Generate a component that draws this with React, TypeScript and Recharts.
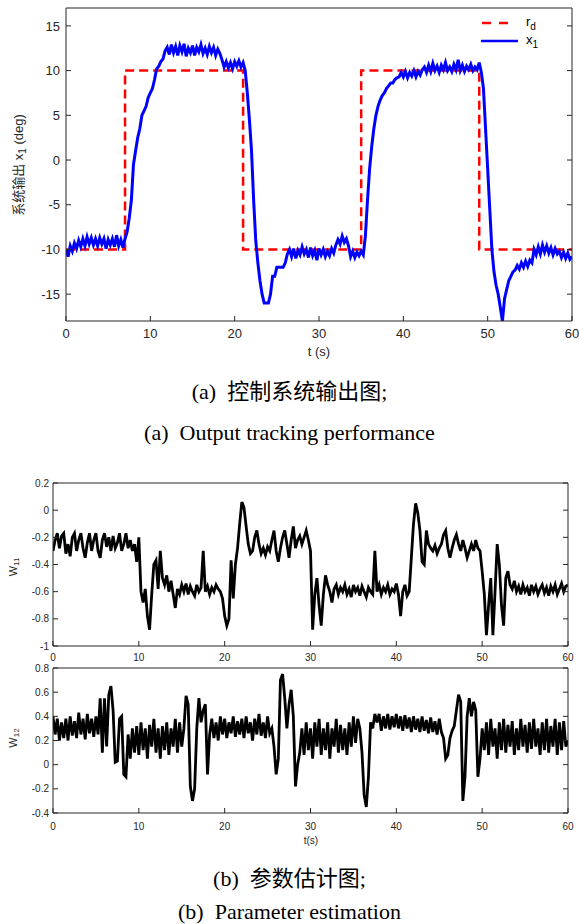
import { LineChart, Line, XAxis, YAxis, Legend } from 'recharts';

const INK = '#262626';
const SANS = "'Liberation Sans', Arial, 'Noto Sans CJK SC', sans-serif";
const SERIF = "'Liberation Serif', 'Times New Roman', 'Noto Sans CJK SC', serif";

const STEP = 0.25; // sampling step of the traces (s)
const T_TICKS = [0, 10, 20, 30, 40, 50, 60];
const X1_TICKS = [-15, -10, -5, 0, 5, 10, 15];
const W11_TICKS = [-1, -0.8, -0.6, -0.4, -0.2, 0, 0.2];
const W12_TICKS = [-0.4, -0.2, 0, 0.2, 0.4, 0.6, 0.8];

// reference r_d (square wave)
const RD_T = [0, 7, 7, 21, 21, 35, 35, 49, 49, 60];
const RD_V = [-10, -10, 10, 10, -10, -10, 10, 10, -10, -10];

// system output x1 (deg), every 0.25 s
const X1 = [
  // 0 - 7 s
  -10.0, -10.8, -9.6, -10.2, -9.3, -9.9, -9.0, -9.7, -8.8, -9.6,
  -8.6, -9.4, -8.7, -9.5, -8.8, -9.6, -8.7, -9.4, -8.8, -9.9,
  -8.9, -9.5, -8.8, -9.7, -8.4, -9.6, -8.9, -9.8, -8.8,
  // 7.25 - 12 s
  -8.0, -6.5, -4.5, -0.5, 1.0, 2.5, 3.5, 5.0, 5.5, 6.0,
  7.0, 7.5, 8.0, 9.0, 10.2, 10.5, 11.0, 11.3, 12.2, 12.6,
  // 12.25 - 18.5 s
  11.8, 12.9, 12.0, 12.7, 11.7, 12.8, 12.1, 13.0, 11.6, 12.5,
  12.0, 12.8, 11.7, 12.6, 12.1, 12.9, 11.9, 12.5, 11.8, 12.7,
  12.0, 12.6, 11.7, 12.4, 11.9, 11.2,
  // 18.75 - 21.25 s
  10.4, 11.0, 10.3, 10.9, 10.2, 11.0, 10.5, 11.1, 10.4, 10.9, 10.0,
  // 21.5 - 26.25 s
  7.5, 4.5, 1.0, -4.5, -9.0, -11.5, -13.5, -15.0, -16.0, -16.0,
  -16.0, -15.0, -13.0, -13.0, -12.0, -12.0, -12.0, -12.0, -11.5, -10.5,
  // 26.5 - 31.75 s
  -10.0, -10.8, -9.9, -11.0, -10.1, -10.6, -9.7, -10.5, -10.0, -10.9,
  -9.8, -10.7, -10.1, -11.2, -9.9, -10.6, -10.0, -10.8, -10.2, -10.7,
  -9.9, -10.4,
  // 32 - 35.25 s
  -9.5, -8.9, -9.4, -8.5, -9.2, -8.8, -9.6,
  -10.8, -10.2, -10.9, -10.3, -10.7, -10.2, -10.6,
  // 35.5 - 39.75 s
  -8.5, -4.5, -1.0, 1.5, 3.5, 5.0, 6.0, 6.7, 7.2, 7.5,
  8.0, 8.3, 8.6, 8.6, 9.0, 9.2, 9.3, 9.8,
  // 40 - 42.25 s
  9.3, 9.9, 9.2, 9.8, 9.4, 10.0, 9.3, 9.9, 9.5, 10.1,
  // 42.5 - 49.25 s
  10.4, 9.8, 10.6, 9.9, 10.8, 10.0, 10.5, 9.8, 10.6, 10.1,
  10.9, 10.0, 10.4, 9.9, 10.7, 10.1, 11.2, 10.0, 10.6, 9.9,
  10.5, 10.1, 10.7, 10.0, 10.4, 10.1, 10.9, 9.8,
  // 49.5 - 55.25 s
  8.0, 3.5, -1.0, -5.5, -10.0, -12.5, -14.0, -15.0, -16.5, -18.0,
  -15.5, -14.5, -13.5, -13.0, -12.5, -12.3, -11.8, -12.2, -11.5, -12.0,
  -11.3, -11.9, -11.2, -11.5,
  // 55.5 - 60 s
  -10.0, -10.6, -9.7, -10.5, -9.5, -10.3, -9.6, -10.4, -9.8, -10.6,
  -9.9, -10.5, -10.2, -10.9, -10.3, -11.0, -10.4, -11.1, -10.8,
];

// parameter estimate W11, every 0.25 s (one row = 2 s)
const W11 = [
  -0.30, -0.22, -0.17, -0.28, -0.19, -0.17, -0.32, -0.25, // 0
  -0.34, -0.20, -0.17, -0.30, -0.22, -0.17, -0.28, -0.35, // 2
  -0.24, -0.17, -0.30, -0.22, -0.17, -0.30, -0.35, -0.22, // 4
  -0.17, -0.27, -0.20, -0.30, -0.19, -0.28, -0.24, -0.17, // 6
  -0.30, -0.25, -0.17, -0.28, -0.22, -0.30, -0.25, -0.38, // 8
  -0.20, -0.60, -0.68, -0.58, -0.78, -0.88, -0.62, -0.40, // 10
  -0.37, -0.58, -0.30, -0.50, -0.55, -0.48, -0.60, -0.52, // 12
  -0.62, -0.72, -0.58, -0.62, -0.55, -0.60, -0.54, -0.62, // 14
  -0.56, -0.60, -0.63, -0.55, -0.60, -0.57, -0.30, -0.60, // 16
  -0.56, -0.62, -0.57, -0.60, -0.55, -0.58, -0.60, -0.65, // 18
  -0.78, -0.85, -0.80, -0.37, -0.65, -0.40, -0.28, -0.10, // 20
  0.06, 0.02, -0.12, -0.25, -0.32, -0.30, -0.20, -0.15, // 22
  -0.25, -0.32, -0.28, -0.33, -0.27, -0.30, -0.22, -0.15, // 24
  -0.30, -0.38, -0.28, -0.20, -0.15, -0.25, -0.35, -0.22, // 26
  -0.12, -0.28, -0.22, -0.19, -0.25, -0.20, -0.15, -0.22, // 28
  -0.30, -0.88, -0.62, -0.50, -0.70, -0.85, -0.62, -0.48, // 30
  -0.55, -0.60, -0.68, -0.58, -0.55, -0.62, -0.57, -0.60, // 32
  -0.55, -0.62, -0.58, -0.64, -0.55, -0.60, -0.57, -0.63, // 34
  -0.56, -0.60, -0.64, -0.57, -0.60, -0.62, -0.30, -0.60, // 36
  -0.55, -0.62, -0.57, -0.60, -0.55, -0.62, -0.58, -0.60, // 38
  -0.54, -0.62, -0.78, -0.60, -0.55, -0.63, -0.60, -0.35, // 40
  -0.10, 0.05, -0.02, -0.15, -0.38, -0.40, -0.15, -0.25, // 42
  -0.28, -0.30, -0.26, -0.32, -0.28, -0.25, -0.18, -0.15, // 44
  -0.28, -0.35, -0.28, -0.22, -0.18, -0.25, -0.30, -0.22, // 46
  -0.28, -0.35, -0.30, -0.25, -0.30, -0.22, -0.28, -0.30, // 48
  -0.45, -0.62, -0.92, -0.70, -0.50, -0.92, -0.60, -0.25, // 50
  -0.40, -0.70, -0.85, -0.50, -0.45, -0.55, -0.58, -0.52, // 52
  -0.60, -0.56, -0.62, -0.55, -0.60, -0.57, -0.63, -0.55, // 54
  -0.60, -0.56, -0.62, -0.58, -0.55, -0.61, -0.57, -0.63, // 56
  -0.56, -0.60, -0.55, -0.62, -0.58, -0.54, -0.60, -0.56, // 58
  -0.55, // 60
];

// parameter estimate W12, every 0.25 s (one row = 2 s)
const W12 = [
  0.40, 0.25, 0.38, 0.20, 0.35, 0.22, 0.38, 0.20, // 0
  0.40, 0.24, 0.36, 0.22, 0.43, 0.25, 0.38, 0.21, // 2
  0.42, 0.26, 0.38, 0.23, 0.40, 0.25, 0.55, 0.10, // 4
  0.55, 0.15, 0.58, 0.65, 0.45, 0.02, 0.03, 0.38, // 6
  0.40, -0.08, -0.10, 0.25, 0.05, 0.30, 0.10, 0.32, // 8
  0.08, 0.35, 0.12, 0.30, 0.05, 0.33, 0.15, 0.38, // 10
  0.10, 0.30, 0.05, 0.32, 0.12, 0.35, 0.08, 0.30, // 12
  0.15, 0.38, 0.10, 0.35, 0.15, 0.30, 0.57, 0.50, // 14
  -0.18, -0.30, -0.20, 0.30, 0.55, 0.35, 0.45, 0.50, // 16
  -0.08, 0.25, 0.38, 0.22, 0.35, 0.20, 0.40, 0.25, // 18
  0.38, 0.22, 0.35, 0.26, 0.40, 0.23, 0.36, 0.25, // 20
  0.38, 0.22, 0.40, 0.26, 0.35, 0.20, 0.38, 0.25, // 22
  0.42, 0.24, 0.35, 0.22, 0.40, 0.26, 0.30, 0.15, // 24
  -0.08, 0.05, 0.70, 0.75, 0.55, 0.30, 0.50, 0.62, // 26
  0.40, -0.18, 0.00, 0.10, 0.30, 0.08, 0.35, 0.12, // 28
  0.30, 0.05, 0.35, 0.15, 0.38, 0.08, 0.30, 0.12, // 30
  0.35, 0.05, 0.30, 0.15, 0.38, 0.10, 0.33, 0.12, // 32
  0.30, 0.08, 0.35, 0.15, 0.40, 0.18, 0.38, 0.30, // 34
  0.10, -0.25, -0.35, -0.10, 0.35, 0.30, 0.42, 0.35, // 36
  0.42, 0.28, 0.40, 0.30, 0.42, 0.29, 0.40, 0.31, // 38
  0.42, 0.30, 0.40, 0.28, 0.41, 0.30, 0.39, 0.27, // 40
  0.40, 0.29, 0.38, 0.27, 0.40, 0.28, 0.37, 0.26, // 42
  0.39, 0.27, 0.36, 0.25, 0.38, 0.27, 0.22, 0.05, // 44
  0.08, 0.22, 0.28, 0.32, 0.45, 0.58, 0.52, -0.30, // 46
  -0.10, 0.40, 0.55, 0.40, 0.52, 0.45, -0.10, 0.05, // 48
  0.30, 0.12, 0.35, 0.08, 0.38, 0.15, 0.30, 0.05, // 50
  0.35, 0.12, 0.38, 0.10, 0.33, 0.15, 0.36, 0.08, // 52
  0.30, 0.12, 0.38, 0.15, 0.33, 0.10, 0.35, 0.13, // 54
  0.38, 0.15, 0.30, 0.08, 0.35, 0.12, 0.38, 0.10, // 56
  0.32, 0.15, 0.38, 0.08, 0.35, 0.12, 0.36, 0.15, // 58
  0.20, // 60
];

const rdData = RD_T.map((t, i) => ({ t, v: RD_V[i] }));
const toSeries = (vals: number[]) => vals.map((v, i) => ({ t: i * STEP, v }));
const x1Data = toSeries(X1);
const w11Data = toSeries(W11);
const w12Data = toSeries(W12);

const blank = () => '';

function LegendBox() {
  const row = { display: 'flex', alignItems: 'center', height: 18 } as const;
  return (
    <div style={{ fontFamily: SANS, fontSize: 13, color: '#000' }}>
      <div style={row}>
        <svg width={48} height={6}>
          <line x1={4} x2={31} y1={3} y2={3} stroke="#ff0000" strokeWidth={2.5} strokeDasharray="9 8" />
        </svg>
        <span>r<sub style={{ fontSize: 10, verticalAlign: -4 }}>d</sub></span>
      </div>
      <div style={row}>
        <svg width={48} height={6}>
          <line x1={3} x2={40} y1={3} y2={3} stroke="#0000ff" strokeWidth={2.5} />
        </svg>
        <span>x<sub style={{ fontSize: 10, verticalAlign: -4 }}>1</sub></span>
      </div>
    </div>
  );
}

function OutputPlot() {
  const tick = { fill: INK, fontSize: 13, fontFamily: SANS };
  return (
    <LineChart width={579} height={362} margin={{ top: 0, right: 0, bottom: 11, left: 0 }}>
      <XAxis xAxisId="b" type="number" dataKey="t" domain={[0, 60]} ticks={T_TICKS} interval={0}
        allowDataOverflow height={30} tick={tick} tickSize={-5} tickMargin={13}
        axisLine={{ stroke: INK }} tickLine={{ stroke: INK }}
        label={() => (
          <text x={319} y={356} textAnchor="middle" fill={INK} fontSize={13} fontFamily={SANS}>t (s)</text>
        )} />
      <XAxis xAxisId="top" orientation="top" type="number" domain={[0, 60]} ticks={T_TICKS} interval={0}
        allowDataOverflow height={8} tickFormatter={blank} tickSize={-5}
        axisLine={{ stroke: INK }} tickLine={{ stroke: INK }} />
      <YAxis yAxisId="l" type="number" domain={[-18, 17]} ticks={X1_TICKS} interval={0}
        allowDataOverflow width={66} tick={tick} tickSize={-5} tickMargin={11}
        axisLine={{ stroke: INK }} tickLine={{ stroke: INK }}
        label={() => (
          <text x={18} y={165} transform="rotate(-90, 18, 165)" textAnchor="middle" dominantBaseline="central"
            fill={INK} fontSize={13} fontFamily={SANS}>
            系统输出 x<tspan fontSize={10} dy={4}>1</tspan><tspan dy={-4}> (deg)</tspan>
          </text>
        )} />
      <YAxis yAxisId="r" orientation="right" type="number" domain={[-18, 17]} ticks={X1_TICKS} interval={0}
        allowDataOverflow width={7} tickFormatter={blank} tickSize={-5}
        axisLine={{ stroke: INK }} tickLine={{ stroke: INK }} />
      <Line xAxisId="b" yAxisId="l" data={rdData} dataKey="v" type="linear" stroke="#ff0000"
        strokeWidth={2.5} strokeDasharray="9 5" dot={false} isAnimationActive={false} />
      <Line xAxisId="b" yAxisId="l" data={x1Data} dataKey="v" type="linear" stroke="#0000ff"
        strokeWidth={3} dot={false} isAnimationActive={false} />
      <Legend layout="vertical" align="center" verticalAlign="middle" content={() => <LegendBox />}
        wrapperStyle={{ left: 478, top: 14, width: 90, height: 36 }} />
    </LineChart>
  );
}

interface WPlotProps {
  data: { t: number; v: number }[];
  ticks: number[];
  domain: [number, number];
  height: number;
  bottomAxis: number;
  tickMargin: number;
  sub: string;
  labelY: number;
  showT?: boolean;
}

function WPlot({ data, ticks, domain, height, bottomAxis, tickMargin, sub, labelY, showT }: WPlotProps) {
  const tick = { fill: INK, fontSize: 10, fontFamily: SANS };
  return (
    <LineChart width={579} height={height} margin={{ top: 0, right: 0, bottom: 0, left: 0 }}>
      <XAxis xAxisId="b" type="number" dataKey="t" domain={[0, 60]} ticks={T_TICKS} interval={0}
        allowDataOverflow height={bottomAxis} tick={tick} tickSize={-5} tickMargin={tickMargin}
        axisLine={{ stroke: INK }} tickLine={{ stroke: INK }}
        label={showT ? () => (
          <text x={311} y={height - 3.5} textAnchor="middle" fill={INK} fontSize={10} fontFamily={SANS}>t(s)</text>
        ) : undefined} />
      <XAxis xAxisId="top" orientation="top" type="number" domain={[0, 60]} ticks={T_TICKS} interval={0}
        allowDataOverflow height={13} tickFormatter={blank} tickSize={-5}
        axisLine={{ stroke: INK }} tickLine={{ stroke: INK }} />
      <YAxis yAxisId="l" type="number" domain={domain} ticks={ticks} interval={0}
        allowDataOverflow width={53} tick={tick} tickSize={-5} tickMargin={9}
        axisLine={{ stroke: INK }} tickLine={{ stroke: INK }}
        label={() => (
          <text x={13} y={labelY} transform={`rotate(-90, 13, ${labelY})`} textAnchor="middle"
            dominantBaseline="central" fill={INK} fontSize={11} fontFamily={SANS}>
            W<tspan fontSize={8} dy={3}>{sub}</tspan>
          </text>
        )} />
      <YAxis yAxisId="r" orientation="right" type="number" domain={domain} ticks={ticks} interval={0}
        allowDataOverflow width={11} tickFormatter={blank} tickSize={-5}
        axisLine={{ stroke: INK }} tickLine={{ stroke: INK }} />
      <Line xAxisId="b" yAxisId="l" data={data} dataKey="v" type="linear" stroke="#000"
        strokeWidth={2.8} dot={false} isAnimationActive={false} />
    </LineChart>
  );
}

const caption = (top: number, text: string) => (
  <div style={{
    position: 'absolute', left: 0, top, width: 579, textAlign: 'center', whiteSpace: 'pre',
    fontFamily: SERIF, fontSize: 22, lineHeight: '22px', color: '#000',
  }}>{text}</div>
);

export default function App() {
  return (
    <div style={{ position: 'absolute', left: 0, top: 0, width: 579, height: 924, background: '#fff', overflow: 'hidden' }}>
      <div style={{ position: 'absolute', left: 0, top: 0 }}>
        <OutputPlot />
      </div>
      {caption(381, '(a)  控制系统输出图;')}
      {caption(422, '(a)  Output tracking performance')}

      <div style={{ position: 'absolute', left: 0, top: 470 }}>
        <WPlot data={w11Data} ticks={W11_TICKS} domain={[-1, 0.2]} height={196} bottomAxis={20}
          tickMargin={13} sub="11" labelY={97} />
      </div>
      <div style={{ position: 'absolute', left: 0, top: 655 }}>
        <WPlot data={w12Data} ticks={W12_TICKS} domain={[-0.4, 0.8]} height={192} bottomAxis={34}
          tickMargin={15} sub="12" labelY={83} showT />
      </div>
      {caption(868, '(b)  参数估计图;')}
      {caption(901, '(b)  Parameter estimation')}
    </div>
  );
}
